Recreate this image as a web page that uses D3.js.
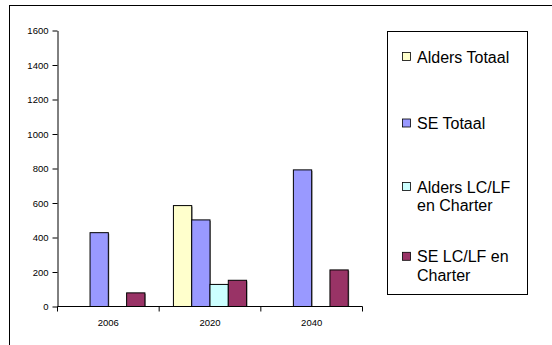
<!DOCTYPE html>
<html>
<head>
<meta charset="utf-8">
<script src="https://cdn.jsdelivr.net/npm/d3@7"></script>
<style>
  html, body { margin: 0; padding: 0; background: #fff; }
  svg { display: block; font-family: "Liberation Sans", Arial, sans-serif; }
</style>
</head>
<body>
<svg id="chart" width="552" height="345"></svg>
<script>
// Years on the x axis
const years = ["2006", "2020", "2040"];
// Series names, in legend order
const seriesNames = ["Alders Totaal", "SE Totaal", "Alders LC/LF en Charter", "SE LC/LF en Charter"];
// Values per series, one per year (null = no bar)
const aldersTotaal = [null, 585, null];
const seTotaal = [428, 502, 792];
const aldersLC = [null, 128, null];
const seLC = [79, 152, 212];
const yTicks = [0, 200, 400, 600, 800, 1000, 1200, 1400, 1600];

const seriesValues = [aldersTotaal, seTotaal, aldersLC, seLC];
const colors = ["#FFFFCC", "#9999FF", "#CCFFFF", "#993366"];
const legendLines = [["Alders Totaal"], ["SE Totaal"], ["Alders LC/LF", "en Charter"], ["SE LC/LF en", "Charter"]];

const svg = d3.select("#chart");
const FONT = "'Liberation Sans', Arial, sans-serif";

// outer chart-area frame
svg.append("rect").attr("x", 9.5).attr("y", 5.5).attr("width", 700).attr("height", 500)
  .attr("fill", "none").attr("stroke", "#000").attr("stroke-width", 1);

const plot = { left: 57, right: 362, top: 30, bottom: 306 };

const x0 = d3.scaleBand().domain(years).range([plot.left, plot.right]).paddingInner(0).paddingOuter(0);
const x1 = d3.scaleBand().domain(d3.range(seriesNames.length))
  .range([0, x0.bandwidth()]).paddingOuter(0.78).paddingInner(0);
const y = d3.scaleLinear().domain([0, 1600]).range([plot.bottom, plot.top]);

// bars with a faint drop shadow
const groups = svg.append("g").selectAll("g").data(years).join("g")
  .attr("transform", d => `translate(${x0(d)},0)`);

groups.each(function (yr, yi) {
  const g = d3.select(this);
  const bars = seriesValues.map((vals, si) => ({ si, v: vals[yi] })).filter(d => d.v != null);
  g.selectAll("rect.shadow").data(bars).join("rect").attr("class", "shadow")
    .attr("x", d => x1(d.si) + 1.5).attr("y", d => y(d.v) + 1.5)
    .attr("width", x1.bandwidth()).attr("height", d => y(0) - y(d.v) - 1.5)
    .attr("fill", "#9a9a9a");
  g.selectAll("rect.bar").data(bars).join("rect").attr("class", "bar")
    .attr("x", d => x1(d.si) + 0.5).attr("y", d => y(d.v) + 0.5)
    .attr("width", x1.bandwidth()).attr("height", d => y(0) - y(d.v))
    .attr("fill", d => colors[d.si]).attr("stroke", "#000").attr("stroke-width", 1);
});

// y axis
const yAxis = d3.axisLeft(y).tickValues(yTicks).tickFormat(d3.format("d"))
  .tickSize(5).tickPadding(4).tickSizeOuter(0);
const ya = svg.append("g").attr("transform", `translate(${plot.left + 0.5},0.5)`).call(yAxis);
ya.select(".domain").attr("stroke", "#000");
ya.selectAll("text").attr("font-size", 9.5).attr("fill", "#000").attr("font-family", FONT);

// x axis with ticks between categories
const xa = svg.append("g").attr("transform", `translate(0.5,${plot.bottom + 0.5})`);
xa.append("line").attr("x1", plot.left).attr("x2", plot.right).attr("stroke", "#000");
const bounds = years.map(d => x0(d)).concat([plot.right]);
xa.selectAll("line.tick").data(bounds).join("line").attr("class", "tick")
  .attr("x1", d => d).attr("x2", d => d).attr("y1", 0).attr("y2", 5).attr("stroke", "#000");
xa.selectAll("text").data(years).join("text")
  .attr("x", d => x0(d) + x0.bandwidth() / 2).attr("y", 19.5)
  .attr("text-anchor", "middle").attr("font-size", 9.5).attr("fill", "#000")
  .attr("font-family", FONT)
  .text(d => d);

// legend
const lg = svg.append("g");
lg.append("rect").attr("x", 387.5).attr("y", 31.5).attr("width", 140).attr("height", 263)
  .attr("fill", "#fff").attr("stroke", "#000");
const baselines = [62.5, 129, 192.5, 262.3];
seriesNames.forEach((name, i) => {
  lg.append("rect").attr("x", 402.5).attr("y", baselines[i] - 10).attr("width", 8).attr("height", 8)
    .attr("fill", colors[i]).attr("stroke", "#000").attr("stroke-width", 0.8);
  const t = lg.append("text").attr("x", 417).attr("y", baselines[i])
    .attr("font-size", 16).attr("fill", "#000").attr("font-family", FONT);
  legendLines[i].forEach((ln, k) => {
    t.append("tspan").attr("x", 417).attr("dy", k === 0 ? 0 : 18.4).text(ln);
  });
});
</script>
</body>
</html>
